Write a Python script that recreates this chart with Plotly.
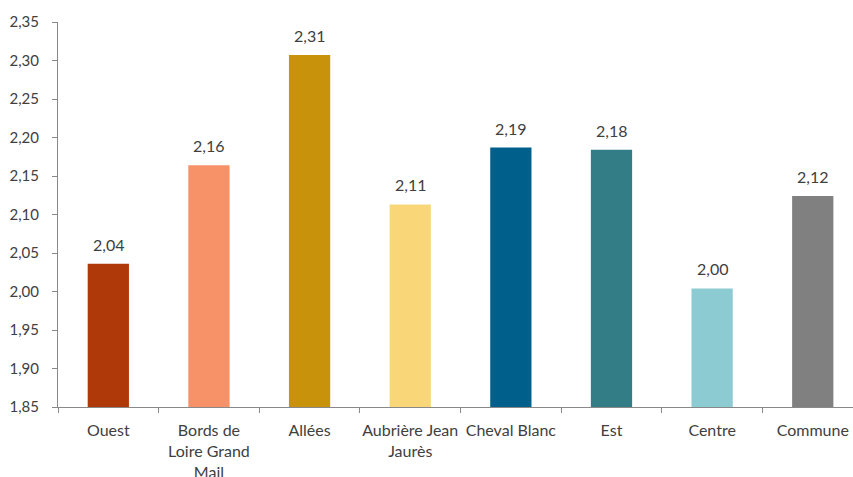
import plotly.graph_objects as go

categories = ["Ouest", "Bords de<br>Loire Grand<br>Mail", "Allées", "Aubrière Jean<br>Jaurès",
              "Cheval Blanc", "Est", "Centre", "Commune"]
values = [2.036, 2.164, 2.307, 2.113, 2.187, 2.184, 2.004, 2.124]
colors = ["#B0390A", "#F79167", "#C8930A", "#F9D778", "#005F8B", "#337D86", "#8DCBD3", "#808080"]
y_ticks = [1.85, 1.90, 1.95, 2.00, 2.05, 2.10, 2.15, 2.20, 2.25, 2.30, 2.35]

FONT = "Lato"
TEXT = "#404040"

fig = go.Figure(go.Bar(
    x=categories,
    y=values,
    marker=dict(color=colors, line=dict(width=0)),
))

# value labels above each bar, formatted with a decimal comma
for cat, val in zip(categories, values):
    fig.add_annotation(
        x=cat, y=val, xref="x", yref="y",
        text=f"{val:.2f}".replace(".", ","),
        showarrow=False, yanchor="bottom", yshift=8,
        font=dict(family=FONT, size=16, color=TEXT),
    )

fig.update_layout(
    width=853, height=477,
    margin=dict(l=58, r=0, t=22, b=70),
    paper_bgcolor="white", plot_bgcolor="white",
    separators=", ",
    bargap=0.59,
    showlegend=False,
    font=dict(family=FONT, size=16, color=TEXT),
)

fig.update_xaxes(
    type="category",
    range=[-0.5, 7.4],
    showline=True, linecolor="#898989", linewidth=1,
    ticks="outside", tickson="boundaries", ticklen=5, tickcolor="#898989",
    ticklabelstandoff=9, tickangle=0, automargin=False,
    tickfont=dict(family=FONT, size=16, color=TEXT),
    showgrid=False,
)

fig.update_yaxes(
    range=[1.85, 2.35],
    tickvals=y_ticks,
    tickformat=".2f",
    showline=True, linecolor="#898989", linewidth=1,
    ticks="outside", ticklen=5, tickcolor="#898989",
    ticklabelstandoff=10, automargin=False,
    tickfont=dict(family=FONT, size=15, color=TEXT),
    showgrid=False, zeroline=False,
)

fig.write_html("out.html")
